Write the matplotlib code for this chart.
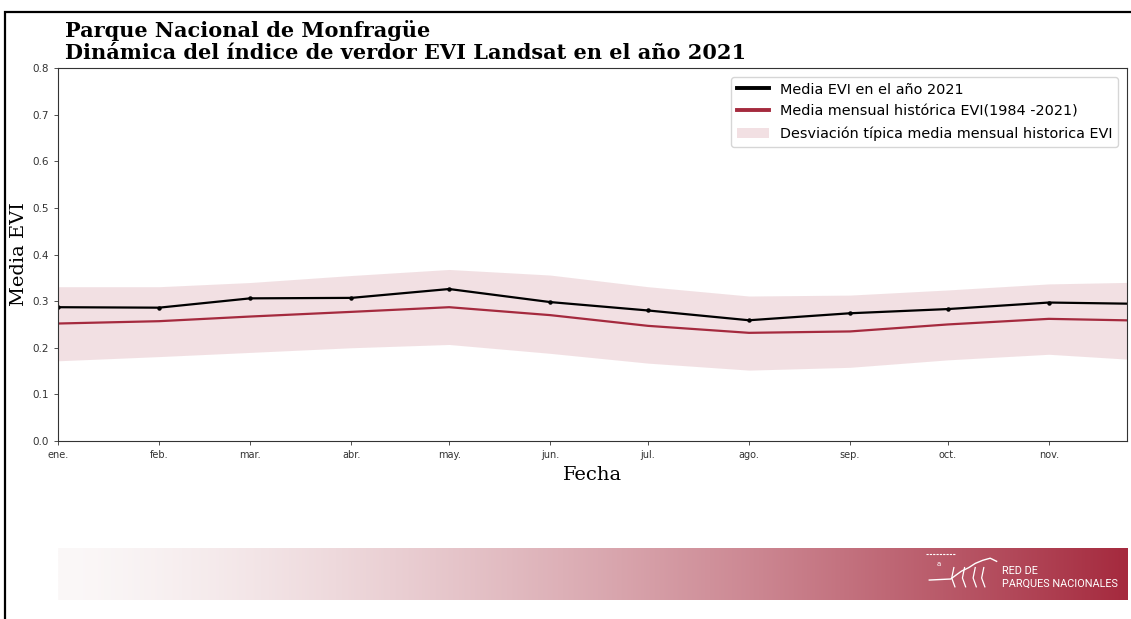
import matplotlib
matplotlib.use("Agg")
from matplotlib import pyplot
from matplotlib.lines import Line2D
from matplotlib.patches import Patch, Rectangle
import numpy
import pandas

# Monthly EVI values (first day of each month)
fechas = pandas.date_range("2021-01-01", "2021-12-01", freq="MS")
meses = ["ene.", "feb.", "mar.", "abr.", "may.", "jun.",
         "jul.", "ago.", "sep.", "oct.", "nov."]
evi_2021 = [0.287, 0.286, 0.306, 0.307, 0.326, 0.298,
            0.280, 0.259, 0.274, 0.283, 0.297, 0.294]
evi_hist = [0.252, 0.257, 0.267, 0.277, 0.287, 0.270,
            0.247, 0.232, 0.235, 0.250, 0.262, 0.258]
evi_sup = [0.331, 0.331, 0.340, 0.355, 0.368, 0.356,
           0.331, 0.311, 0.313, 0.324, 0.337, 0.341]
evi_inf = [0.172, 0.181, 0.190, 0.200, 0.207, 0.188,
           0.167, 0.152, 0.158, 0.174, 0.186, 0.173]

rojo = "#a52a3e"

fig = pyplot.figure(figsize=(11.31, 6.19), dpi=100)
ax = fig.add_axes([0.0513, 0.2876, 0.9452, 0.6024])

ax.fill_between(fechas, evi_inf, evi_sup, color=rojo, alpha=0.14, lw=0)
ax.plot(fechas, evi_hist, "-", color=rojo, lw=1.6)
ax.plot(fechas, evi_2021, "-", color="black", lw=1.6, marker="o", markersize=2.2)

ax.set_xlim(fechas[0], fechas[0] + pandas.Timedelta(days=328))
ax.set_ylim(0, 0.8)
ax.set_xticks(fechas[:11])
ax.set_xticklabels(meses, fontsize=7)
ax.set_yticks(numpy.arange(0, 0.81, 0.1))
ax.set_yticklabels(["%.1f" % v for v in numpy.arange(0, 0.81, 0.1)], fontsize=7.5)
ax.tick_params(length=3, width=0.6, colors="#333333")
for s in ax.spines.values():
    s.set_linewidth(0.8)
    s.set_color("#333333")

ax.set_xlabel("Fecha", family="DejaVu Serif", fontsize=14)
ax.set_ylabel("Media EVI", family="DejaVu Serif", fontsize=14, labelpad=3)

handles = [
    Line2D([], [], color="black", lw=2.8),
    Line2D([], [], color=rojo, lw=2.8),
    Patch(facecolor=rojo, alpha=0.14, lw=0),
]
labels = [
    "Media EVI en el año 2021",
    "Media mensual histórica EVI(1984 -2021)",
    "Desviación típica media mensual historica EVI",
]
ax.legend(handles, labels, loc="upper right", fontsize=10.4,
          handlelength=2.2, borderaxespad=0.6, labelspacing=0.55)

fig.text(0.0575, 1 - 37 / 619, "Parque Nacional de Monfragüe",
         family="DejaVu Serif", weight="bold", fontsize=15, va="baseline", ha="left")
fig.text(0.0575, 1 - 59 / 619, "Dinámica del índice de verdor EVI Landsat en el año 2021",
         family="DejaVu Serif", weight="bold", fontsize=15, va="baseline", ha="left")

# banner with colour gradient and network name
banner = fig.add_axes([0.0513, 0.031, 0.9452, 0.084])
c0 = numpy.array([251, 248, 248]) / 255
c1 = numpy.array([165, 42, 62]) / 255
t = numpy.linspace(0, 1, 400) ** 1.4
grad = c0[None, :] + (c1 - c0)[None, :] * t[:, None]
banner.imshow(grad[None, :, :], aspect="auto", extent=[0, 1, 0, 1])
banner.set_xlim(0, 1)
banner.set_ylim(0, 1)
banner.axis("off")
fuente = ["Roboto", "DejaVu Sans"]
banner.text(0.883, 0.56, "RED DE", color="white", fontsize=7.8,
            family=fuente, va="center")
banner.text(0.883, 0.3, "PARQUES NACIONALES", color="white", fontsize=7.8,
            family=fuente, va="center")

# small mountain sketch of the logo
xs = numpy.array([0.815, 0.835, 0.845, 0.852, 0.858, 0.865, 0.872, 0.878])
ys = numpy.array([0.38, 0.40, 0.55, 0.62, 0.70, 0.76, 0.80, 0.74])
banner.plot(xs, ys, color="white", lw=1.0)
for x0 in [0.838, 0.848, 0.858, 0.866]:
    banner.plot([x0, x0 - 0.002, x0 + 0.001], [0.62, 0.42, 0.25], color="white", lw=0.9)
banner.plot([0.812, 0.84], [0.88, 0.88], color="white", lw=0.8, ls=(0, (2, 1)))
banner.text(0.824, 0.68, "a", color="white", fontsize=5, ha="center", va="center")

# outer frame
fig.add_artist(Rectangle((5 / 1131, -0.1), 1.2, 1 - 12 / 619 + 0.1,
                         transform=fig.transFigure, fill=False,
                         edgecolor="black", lw=1.6))

fig.savefig("out.png", dpi=100)
pyplot.close(fig)
